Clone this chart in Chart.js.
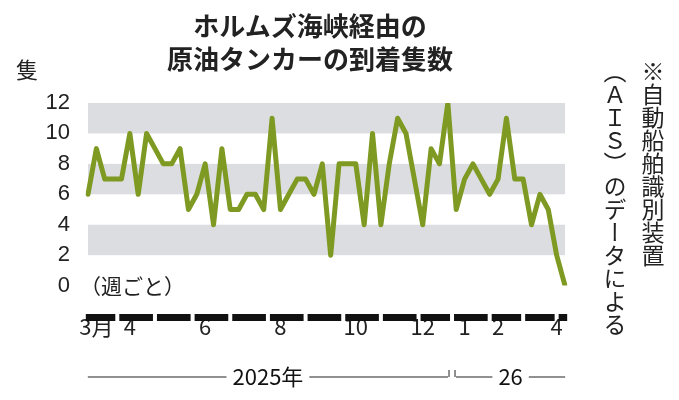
<!DOCTYPE html><html><head><meta charset="utf-8">
<script src="https://cdn.jsdelivr.net/npm/chart.js@4/dist/chart.umd.min.js"></script>
<style>body{margin:0;background:#fff;font-family:"Noto Sans CJK JP";}
#t{position:absolute;left:120px;top:8px;width:380px;text-align:center;font-weight:bold;font-size:26px;line-height:33px;color:#222}
#u{position:absolute;left:16px;top:52px;font-size:22px;color:#222}
#w{position:absolute;left:80px;top:270px;font-size:21px;color:#222}
#n{position:absolute;left:596px;top:60px;writing-mode:vertical-rl;font-size:23px;line-height:38px;color:#222}
#c{position:absolute;left:0;top:0}</style></head><body>
<canvas id="c" width="600" height="400"></canvas>
<div id="t">ホルムズ海峡経由の<br>原油タンカーの到着隻数</div>
<div id="u">隻</div><div id="w">（週ごと）</div>
<div id="n">※自動船舶識別装置<br>（ＡＩＳ）のデータによる</div>
<script>
const arrivals=[6,9,7,7,7,10,6,10,9,8,8,9,5,6,8,4,9,5,5,6,6,5,11,5,6,7,7,6,8,2,
8,8,8,4,10,4,8,11,10,7,4,9,8,12,5,7,8,7,6,7,11,7,7,4,6,5,2,0];
const monthTicks={1:'3月',5:'4',14:'6',23:'8',32:'10',40:'12',45:'1',49:'2',56:'4'};
const monthStarts=[-0.5,3.5,8,12.5,17,21.5,26,30.5,35,39.5,43.5,48,52,56,57.5];
const yearLabels=[{text:'2025年',from:-0.5,to:43.5},{text:'26',from:43.5,to:57.5}];
const bands=[[2,4],[6,8],[10,12]];
const labels=arrivals.map((_,i)=>monthTicks[i]||'');
const deco={id:'deco',beforeDatasetsDraw(ch){const {ctx,scales:{x,y},chartArea:a}=ch;ctx.save();ctx.fillStyle='#dcdde0';
bands.forEach(b=>{ctx.fillRect(a.left,y.getPixelForValue(b[1]),a.right-a.left,y.getPixelForValue(b[0])-y.getPixelForValue(b[1]));});ctx.restore();},
afterDraw(ch){const {ctx,scales:{x,y}}=ch;ctx.save();ctx.fillStyle='#111';
for(let i=0;i<monthStarts.length-1;i++){const x0=x.getPixelForValue(monthStarts[i])+2,x1=x.getPixelForValue(monthStarts[i+1])-2;ctx.fillRect(x0,314,x1-x0,7);}
ctx.strokeStyle='#222';ctx.lineWidth=1;ctx.font='22px "Noto Sans CJK JP"';ctx.textAlign='center';ctx.textBaseline='middle';
yearLabels.forEach(l=>{const x0=x.getPixelForValue(l.from)+4,x1=x.getPixelForValue(l.to)-4,m=(x0+x1)/2,w=ctx.measureText(l.text).width/2+6;
ctx.beginPath();ctx.moveTo(x0,377);ctx.lineTo(m-w,377);ctx.moveTo(m+w,377);ctx.lineTo(x1,377);ctx.stroke();ctx.fillText(l.text,m,377);});
const xb=x.getPixelForValue(43.5);ctx.beginPath();ctx.moveTo(xb-3,370);ctx.lineTo(xb-3,377);ctx.moveTo(xb+3,370);ctx.lineTo(xb+3,377);ctx.stroke();
ctx.restore();}};
new Chart(document.getElementById('c'),{type:'line',data:{labels,datasets:[{data:arrivals,borderColor:'#7f9a22',borderWidth:5,pointRadius:0,tension:0,borderJoinStyle:'round',borderCapStyle:'round'}]},
options:{responsive:false,animation:false,layout:{padding:{left:12,top:103,right:35,bottom:40}},plugins:{legend:{display:false},tooltip:{enabled:false}},
scales:{x:{offset:false,grid:{display:false},border:{display:false},ticks:{autoSkip:false,maxRotation:0,padding:20,color:'#222',font:{size:22,family:'"Noto Sans CJK JP"'}}},
y:{min:0,max:12,afterFit(s){s.width=76},grid:{display:false},border:{display:false},ticks:{stepSize:2,color:'#222',padding:10,font:{size:22,family:'Liberation Sans'}}}}},plugins:[deco]});
</script></body></html>
